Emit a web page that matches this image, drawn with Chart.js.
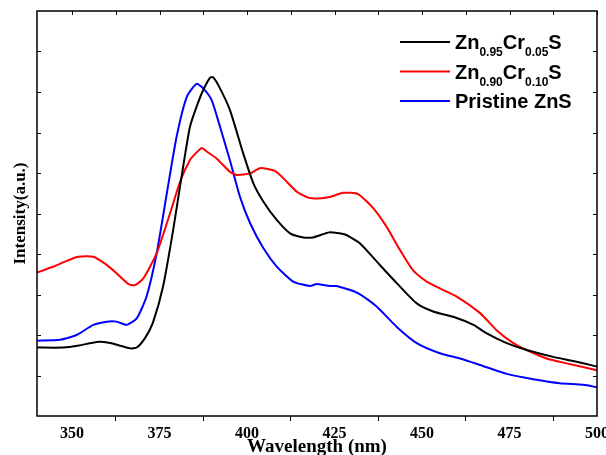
<!DOCTYPE html>
<html>
<head>
<meta charset="utf-8">
<script src="https://cdn.jsdelivr.net/npm/chart.js@4.4.0/dist/chart.umd.min.js"></script>
<style>
  html, body { margin: 0; padding: 0; background: #fff; }
</style>
</head>
<body>
<canvas id="pl" width="606" height="455"></canvas>
<script>
// ── Data ──────────────────────────────────────────────────────────────

// Zn0.95Cr0.05S (black)
const nmCr05 = [340, 347.4, 352, 357.1, 360.9, 366.6, 368.5, 370.9, 373.1, 376.0, 378.9, 381.3, 383.7,
    385.6, 387.5, 389.4, 390.2, 391.8, 395.1, 398.9, 401.8, 404.7, 408.5, 412.3, 416.1, 418.9, 421.8,
    423.7, 428, 432.3, 437.1, 442.8, 448.5, 453.2, 458.9, 464.7, 468.5, 474.2, 479.9, 487.5, 494.2, 500];
const intCr05 = [1.69, 1.69, 1.74, 1.83, 1.80, 1.67, 1.69, 1.93, 2.30, 3.19, 4.59, 5.91, 7.14,
    7.64, 8.05, 8.35, 8.37, 8.17, 7.56, 6.49, 5.75, 5.29, 4.84, 4.51, 4.41, 4.41, 4.49,
    4.54, 4.48, 4.26, 3.81, 3.28, 2.78, 2.58, 2.45, 2.25, 2.04, 1.80, 1.63, 1.46, 1.34, 1.22];

// Zn0.90Cr0.10S (red)
const nmCr10 = [340, 344.7, 348.5, 351.8, 356.1, 359.9, 362.8, 366.1, 368.0, 370.4, 374.2, 378.0, 380.9,
    383.7, 385.6, 387.1, 388.5, 391.3, 395.1, 397.1, 400.9, 403.7, 408.0, 411.3, 414.2, 418.0, 423.7,
    427.4, 431.7, 436.0, 439.9, 443.7, 447.4, 451.3, 455.1, 459.9, 466.6, 471.3, 476.1, 479.9, 485.6,
    491.3, 500];
const intCr10 = [3.54, 3.69, 3.83, 3.93, 3.93, 3.73, 3.52, 3.26, 3.23, 3.40, 4.02, 5.00, 5.79,
    6.32, 6.51, 6.62, 6.53, 6.36, 6.03, 5.95, 5.99, 6.12, 6.05, 5.79, 5.54, 5.38, 5.41,
    5.51, 5.48, 5.14, 4.67, 4.10, 3.60, 3.32, 3.15, 2.95, 2.54, 2.12, 1.80, 1.63, 1.42,
    1.30, 1.13];

// Pristine ZnS (blue)
const nmPure = [340, 346.6, 351.3, 356.1, 359.9, 362.8, 365.6, 368.5, 371.3, 374.2, 377.1, 379.9, 382.8,
    385.6, 387.5, 389.9, 392.3, 395.1, 398.0, 400.9, 404.7, 408.5, 413.2, 418.0, 419.9, 423.7, 425.6,
    431.8, 437.1, 442.8, 448.5, 455.1, 460.9, 466.6, 474.2, 481.8, 489.4, 496.1, 500];
const intPure = [1.86, 1.88, 2.00, 2.25, 2.33, 2.33, 2.25, 2.41, 2.95, 4.02, 5.50, 6.90, 7.88,
    8.20, 8.09, 7.80, 7.14, 6.32, 5.41, 4.76, 4.14, 3.69, 3.32, 3.21, 3.26, 3.21, 3.21,
    3.03, 2.70, 2.20, 1.80, 1.55, 1.42, 1.26, 1.04, 0.91, 0.81, 0.77, 0.71];

const xMajorTicks = [350, 375, 400, 425, 450, 475, 500];
const xMinorTicks = [362.5, 387.5, 412.5, 437.5, 462.5, 487.5];
const yTicks      = [1, 2, 3, 4, 5, 6, 7, 8, 9];

// legend entries: [text, isSubscript] parts
const legendItems = [
    { color: '#000000', parts: [['Zn', 0], ['0.95', 1], ['Cr', 0], ['0.05', 1], ['S', 0]] },
    { color: '#ff0000', parts: [['Zn', 0], ['0.90', 1], ['Cr', 0], ['0.10', 1], ['S', 0]] },
    { color: '#0000ff', parts: [['Pristine ZnS', 0]] },
];

const toPoints = (xs, ys) => xs.map((x, i) => ({ x, y: ys[i] }));

// ── Frame, inward ticks and legend ────────────────────────────────────

const framePlugin = {
    id: 'frame',
    afterDraw(chart) {
        const { ctx, chartArea: a, scales: { x, y } } = chart;
        ctx.save();
        ctx.strokeStyle = '#000';
        ctx.lineWidth = 1.5;
        ctx.strokeRect(a.left, a.top, a.right - a.left, a.bottom - a.top);

        ctx.lineWidth = 1;
        ctx.beginPath();
        [...xMajorTicks, ...xMinorTicks].forEach(v => {
            const px = Math.round(x.getPixelForValue(v)) + 0.5;
            ctx.moveTo(px, a.top);
            ctx.lineTo(px, a.top + 4);
        });
        yTicks.forEach(v => {
            const py = Math.round(y.getPixelForValue(v)) + 0.5;
            ctx.moveTo(a.left, py);  ctx.lineTo(a.left + 4, py);
            ctx.moveTo(a.right, py); ctx.lineTo(a.right - 4, py);
        });
        ctx.stroke();

        // legend
        const lx = 400, tx = 455;
        legendItems.forEach((item, i) => {
            const ly = 42 + i * 29.5;
            ctx.strokeStyle = item.color;
            ctx.lineWidth = 2;
            ctx.beginPath();
            ctx.moveTo(lx, ly);
            ctx.lineTo(lx + 50, ly);
            ctx.stroke();

            ctx.fillStyle = '#000';
            ctx.textBaseline = 'alphabetic';
            let cx = tx;
            item.parts.forEach(([t, sub]) => {
                ctx.font = sub ? 'bold 12px "Liberation Sans", Arial' : 'bold 20px "Liberation Sans", Arial';
                ctx.fillText(t, cx, sub ? ly + 14 : ly + 7);
                cx += ctx.measureText(t).width;
            });
        });
        ctx.restore();
    },
};

// ── Chart ─────────────────────────────────────────────────────────────

const serif = '"Liberation Serif", "Times New Roman", serif';
const line = (data, color) => ({
    data,
    borderColor:  color,
    borderWidth:  2,
    pointRadius:  0,
    showLine:     true,
    fill:         false,
    tension:      0.2,
});

new Chart(document.getElementById('pl'), {
    type: 'scatter',
    data: {
        datasets: [
            line(toPoints(nmCr05, intCr05), '#000000'),
            line(toPoints(nmCr10, intCr10), '#ff0000'),
            line(toPoints(nmPure, intPure), '#0000ff'),
        ],
    },
    options: {
        responsive: false,
        animation:  false,
        devicePixelRatio: 1,
        layout: { padding: { top: 11, right: 9, bottom: 0, left: 0 } },
        plugins: { legend: { display: false }, tooltip: { enabled: false } },
        scales: {
            x: {
                type: 'linear',
                min:  340,
                max:  500,
                afterBuildTicks: s => {
                    s.ticks = [...xMajorTicks, ...xMinorTicks].sort((a, b) => a - b).map(v => ({ value: v }));
                },
                afterFit: s => { s.height = 39; s.paddingLeft = 0; s.paddingRight = 0; },
                border: { display: false },
                grid: {
                    drawOnChartArea: false,
                    tickLength: 5,
                    tickWidth:  1,
                    tickColor:  c => (c.tick && xMajorTicks.includes(c.tick.value)) ? 'rgba(0,0,0,0)' : '#000',
                },
                ticks: {
                    autoSkip:    false,
                    maxRotation: 0,
                    padding:     3,
                    color:       '#000',
                    font:        { family: serif, size: 16, weight: 'bold' },
                    callback:    v => xMajorTicks.includes(v) ? String(v) : '',
                },
                title: {
                    display: true,
                    text:    'Wavelength (nm)',
                    color:   '#000',
                    font:    { family: serif, size: 19, weight: 'bold', lineHeight: 0.8 },
                    padding: { top: 0, bottom: 0 },
                },
            },
            y: {
                min: 0,
                max: 10,
                afterFit: s => { s.width = 37; s.paddingTop = 0; s.paddingBottom = 0; },
                border: { display: false },
                grid:   { display: false },
                ticks:  { display: false, stepSize: 1 },
                title: {
                    display: true,
                    text:    'Intensity(a.u.)',
                    color:   '#000',
                    font:    { family: serif, size: 17, weight: 'bold' },
                    padding: { top: 10, bottom: 0 },
                },
            },
        },
    },
    plugins: [framePlugin],
});
</script>
</body>
</html>
